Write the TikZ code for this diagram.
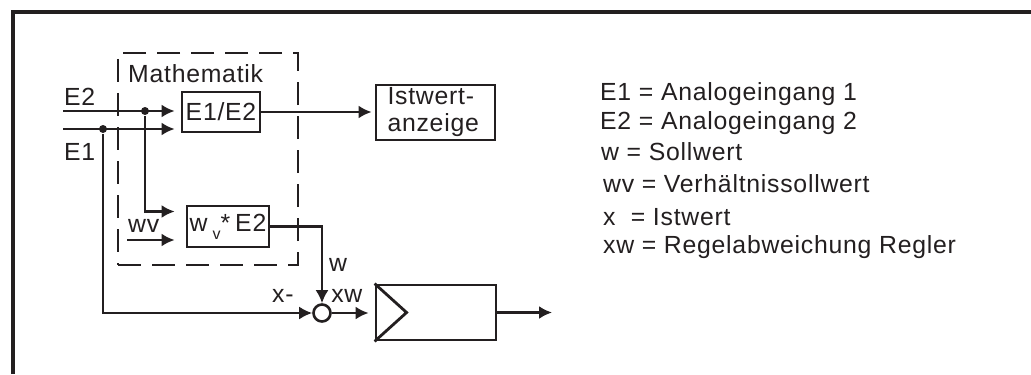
\documentclass[tikz,border=0pt]{standalone}
\usepackage{fontspec}
\setmainfont[LetterSpace=3]{Liberation Sans}
\usepackage{xcolor}
\usetikzlibrary{arrows.meta,positioning,calc}
\definecolor{ink}{RGB}{35,31,32}

\begin{document}
\begin{tikzpicture}[x=0.5pt, y=-0.5pt, font=\fontsize{12.4}{13.5}\selectfont, >={Latex[length=6.5pt,width=6.5pt]}, line width=1.2pt, color=ink]
  \tikzset{blk/.style={draw, line width=1.4pt, inner sep=0pt},mathbox/.style={draw, line width=1.3pt, dash pattern=on 11.5pt off 5.5pt},junc/.style={circle, fill, inner sep=0pt, minimum size=4pt},lbl/.style={anchor=base west, inner sep=0pt},edgelbl/.style={inner sep=1.5pt}}
  \useasboundingbox (0,0) rectangle (1031,374);
  \draw[line width=1.6pt] (13,374) |- (1031,12);
  % Mathematik block
  \node[mathbox, minimum width=90pt, minimum height=106pt] (mathe) at (208,159) {};
  \node[lbl] (mathlab) at (127,83) {Mathematik};
  \node[blk, minimum width=39pt, minimum height=20pt] (quot) at (221,112) {E1/E2};
  \node[blk, minimum width=41pt, minimum height=20.5pt] (mul) at (228,226.5) {w\hspace{2.5pt}\raisebox{-0.6ex}{\footnotesize v}*\hspace{2.5pt}E2};
  \node[blk, minimum width=59.5pt, minimum height=27.5pt, align=left, text width=48pt] (anz) at (435.5,112.5) {Istwert-\\anzeige};
  \node[circle, draw, line width=1.3pt, minimum size=8.5pt, inner sep=0pt] (sum) at (322,313) {};
  \node[blk, minimum width=60pt, minimum height=27.5pt] (ctrl) at (436,312.5) {};
  \draw[line width=1.4pt] (ctrl.north west) -- ([xshift=16pt]ctrl.west) -- (ctrl.south west);
  % inputs
  \coordinate (e2in) at (63,111);
  \coordinate (e1in) at (63,129);
  \coordinate (wvin) at (127,240);
  \coordinate (out) at (552,312.5);
  \node[junc] (j2) at (145,111) {};
  \node[junc] (j1) at (103,129) {};
  \node[lbl] (e2lab) at (63,105) {E2};
  \node[lbl] (e1lab) at (63,160) {E1};
  \node[lbl] (wvlab) at (127,232) {wv};
  \draw[->, shorten >=3pt] (e2in) -- (quot.west |- e2in);
  \draw[->, shorten >=3pt] (e1in) -- (quot.west |- e1in);
  \draw[->, shorten >=5.5pt] (j2) |- ([yshift=7.5pt]mul.west);
  \draw[->, shorten >=5.5pt] (wvin) -- (mul.west |- wvin);
  \draw[->, shorten >=1.5pt] (quot.east) -- (anz.west |- quot.east);
  \draw[->] (mul.east) -| node[edgelbl, pos=0.75, right=1.5pt] (wlab) {w} (sum.north);
  \draw[->] (j1) |- node[edgelbl, pos=0.93, above=3pt] (xlab) {x-} (sum.west);
  \draw[->, shorten >=3pt] (sum.east) -- node[edgelbl, pos=0.35, above=3pt] (xwlab) {xw} (ctrl.west |- sum.east);
  \draw[->] (ctrl.east) -- (out);
  % legend
  \node[lbl] (leg1) at (599,100) {E1 = Analogeingang 1};
  \node[lbl] (leg2) at (599,129) {E2 = Analogeingang 2};
  \node[lbl] (leg3) at (600,160) {w = Sollwert};
  \node[lbl] (leg4) at (602,192) {wv = Verhältnissollwert};
  \node[lbl] (leg5) at (602,225) {x\ \ = Istwert};
  \node[lbl] (leg6) at (602,253) {xw = Regelabweichung Regler};
\end{tikzpicture}
\end{document}
